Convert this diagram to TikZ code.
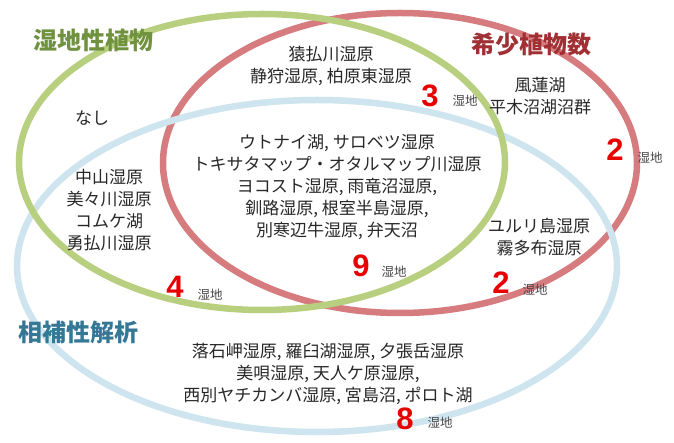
\documentclass[tikz,border=0pt]{standalone}
\usepackage{fontspec}
\setmainfont{Noto Sans CJK JP}
\newfontfamily\numfont{Liberation Sans}
\definecolor{gline}{RGB}{185,207,128}
\definecolor{rline}{RGB}{214,124,126}
\definecolor{bline}{RGB}{206,228,238}
\definecolor{gtitle}{RGB}{112,146,62}
\definecolor{rtitle}{RGB}{160,48,52}
\definecolor{btitle}{RGB}{52,120,150}
\definecolor{txt}{RGB}{40,40,40}
\definecolor{unitc}{RGB}{70,70,70}
\definecolor{numred}{RGB}{232,0,0}
\tikzset{
  ring/.style={line width=6.5pt},
  body/.style={font=\fontsize{17}{22}\selectfont, text=txt, align=center, inner sep=0pt},
  title/.style={font=\fontsize{24}{28}\selectfont\bfseries, inner sep=0pt},
  num/.style={font=\fontsize{31}{31}\selectfont\numfont\bfseries, text=numred, inner sep=0pt},
  unit/.style={font=\fontsize{12.5}{13}\selectfont, text=unitc, inner sep=0pt}
}
\begin{document}
\begin{tikzpicture}[x=1pt,y=-1pt]
\useasboundingbox (0,0) rectangle (674,443);
\fill[white] (0,0) rectangle (674,443);
% ellipses
\draw[ring, rline] (400,163) ellipse [x radius=237pt, y radius=150pt];
\draw[ring, bline] (317,266) ellipse [x radius=300pt, y radius=166pt];
\draw[ring, gline] (262,162) ellipse [x radius=243pt, y radius=148pt];
% titles
\node[title, text=gtitle] (tg) at (93,40) {湿地性植物};
\node[title, text=rtitle] (tr) at (531,44) {希少植物数};
\node[title, text=btitle] (tb) at (78,332) {相補性解析};
% region texts
\node[body] (none) at (92,118) {なし};
\node[body] (top) at (331,66) {猿払川湿原\\静狩湿原, 柏原東湿原};
\node[body] (rightonly) at (540,96) {風蓮湖\\平木沼湖沼群};
\node[body] (left) at (109,210) {中山湿原\\美々川湿原\\コムケ湖\\勇払川湿原};
\node[body] (center) at (337,187) {ウトナイ湖, サロベツ湿原\\トキサタマップ・オタルマップ川湿原\\ヨコスト湿原, 雨竜沼湿原,\\釧路湿原, 根室半島湿原,\\別寒辺牛湿原, 弁天沼};
\node[body] (rb) at (539,237) {ユルリ島湿原\\霧多布湿原};
\node[body] (bottom) at (328,374) {落石岬湿原, 羅臼湖湿原, 夕張岳湿原\\美唄湿原, 天人ケ原湿原,\\西別ヤチカンバ湿原, 宮島沼, ポロト湖};
% counts
\node[num] (n3) at (430,96) {3};
\node[unit] (u3) at (465,101) {湿地};
\node[num] (n2a) at (615,150) {2};
\node[unit] (u2a) at (650,158) {湿地};
\node[num] (n4) at (175,287) {4};
\node[unit] (u4) at (210,295) {湿地};
\node[num] (n9) at (361,266) {9};
\node[unit] (u9) at (394,272) {湿地};
\node[num] (n2b) at (501,283) {2};
\node[unit] (u2b) at (535,290) {湿地};
\node[num] (n8) at (405,419) {8};
\node[unit] (u8) at (440,423) {湿地};
\end{tikzpicture}
\end{document}
